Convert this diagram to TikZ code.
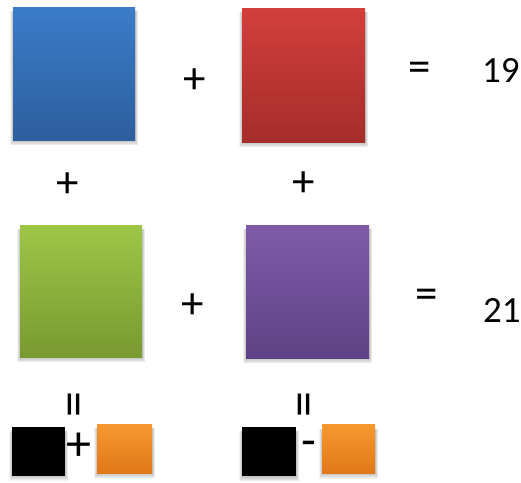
\documentclass[tikz,border=0pt]{standalone}
\usepackage{fontspec}
\setmainfont{Carlito}
\usetikzlibrary{calc,backgrounds}
\definecolor{bluetop}{HTML}{3B7CC9}\definecolor{bluebot}{HTML}{2D5E9E}
\definecolor{redtop}{HTML}{D33F3B}\definecolor{redbot}{HTML}{A52D29}
\definecolor{greentop}{HTML}{9DC646}\definecolor{greenbot}{HTML}{789A31}
\definecolor{purptop}{HTML}{7F5BA9}\definecolor{purpbot}{HTML}{5F4285}
\definecolor{orgtop}{HTML}{F8982F}\definecolor{orgbot}{HTML}{E07818}
\tikzset{
  sq/.style={inner sep=0pt, outer sep=0pt, draw=none},
  bigsq/.style={sq, minimum width=122pt, minimum height=133pt},
  smallsq/.style={sq, minimum width=53pt, minimum height=49pt},
  grad/.style 2 args={top color=#1, bottom color=#2},
  op/.style={inner sep=0pt, font=\fontsize{45}{54}\selectfont},
  num/.style={inner sep=0pt, font=\fontsize{37}{44}\selectfont},
  shadowlayer/.style={fill=black, opacity=0.045},
}
\begin{document}
\begin{tikzpicture}[x=1pt, y=-1pt]
\useasboundingbox (0,0) rectangle (521,482);
% row 1
\node[bigsq, grad={bluetop}{bluebot}] (blue) at (74,73.5) {};
\node[bigsq, grad={redtop}{redbot}, minimum width=123pt, minimum height=134pt] (red) at (303.5,75) {};
\node[op] (p1) at (195,81) {+};
\node[op] (eq1) at (420,72) {=};
\node[num, anchor=west] (n19) at (482,70) {19};
% between rows
\node[op] (p2) at (68,185) {+};
\node[op] (p3) at (304,184) {+};
% row 2
\node[bigsq, grad={greentop}{greenbot}, minimum height=132pt] (green) at (81,291) {};
\node[bigsq, grad={purptop}{purpbot}, minimum width=123pt] (purple) at (307.5,291.5) {};
\node[op] (p4) at (193,306) {+};
\node[op] (eq2) at (427,299) {=};
\node[num, anchor=west] (n21) at (483,310) {21};
% bottom
\node[op, rotate=90, font=\fontsize{52}{60}\selectfont] (e1) at (79,405) {=};
\node[op, rotate=90, font=\fontsize{52}{60}\selectfont] (e2) at (309,405) {=};
\node[smallsq, fill=black] (k1) at (38.5,451) {};
\node[op, font=\fontsize{50}{60}\selectfont] (p5) at (78.5,447) {+};
\node[smallsq, grad={orgtop}{orgbot}, minimum width=55pt, minimum height=49pt] (o1) at (124.5,448.5) {};
\node[smallsq, fill=black, minimum width=54pt] (k2) at (269,451.5) {};
\node[op, font=\fontsize{48}{54}\selectfont] (m1) at (309,449) {-};
\node[smallsq, grad={orgtop}{orgbot}] (o2) at (348.5,449) {};
% soft shadows
\begin{scope}[on background layer]
\foreach \n in {blue,red,green,purple,k1,o1,k2,o2}{
  \foreach \k in {1,...,6}{
    \fill[shadowlayer] ($(\n.north west)+(-0.5*\k,4)$) rectangle ($(\n.south east)+(0.5*\k,0.9*\k)$);
  }
}
\end{scope}
\end{tikzpicture}
\end{document}
